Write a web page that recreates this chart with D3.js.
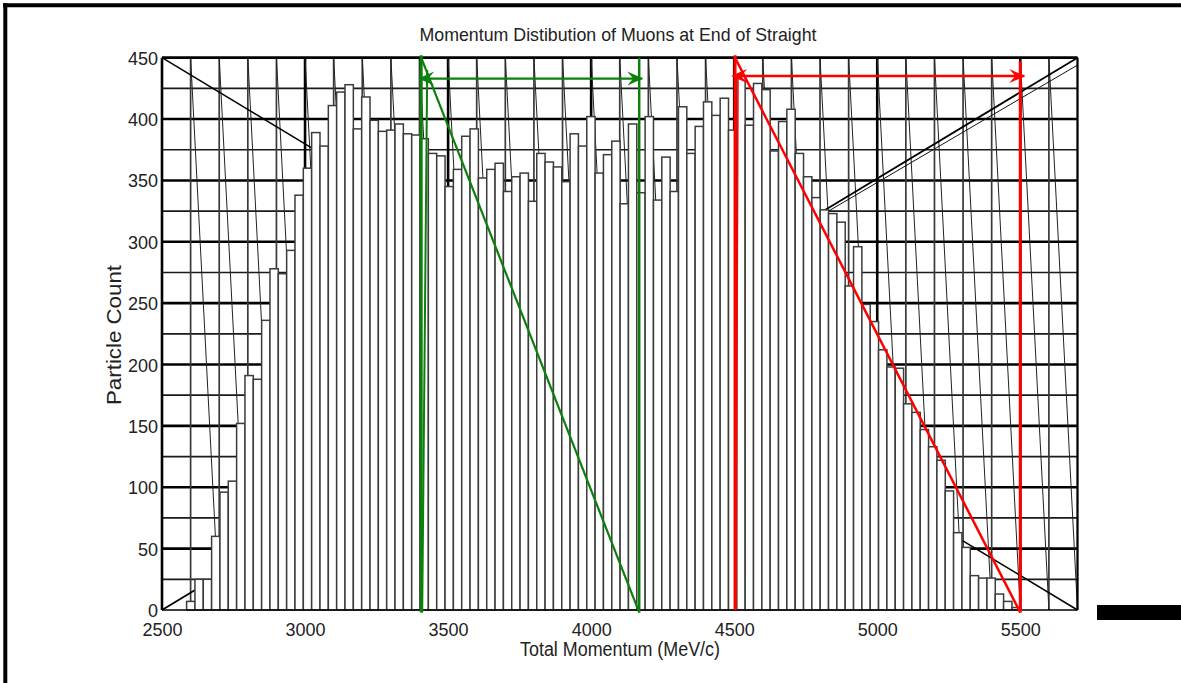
<!DOCTYPE html>
<html><head><meta charset="utf-8">
<script src="https://cdn.jsdelivr.net/npm/d3@7/dist/d3.min.js"></script>
<style>body{margin:0;background:#fff;} svg{display:block;}</style>
</head><body>
<svg id="chart" width="1181" height="683"></svg>
<script>
// ---- data ----
const titleText = "Momentum Distibution of Muons at End of Straight";
const xLabel = "Total Momentum (MeV/c)";
const yLabel = "Particle Count";
const binStart = 2586;   // MeV/c, lower edge of first bin
const binEnd = 5500;     // MeV/c, upper edge of last bin
const counts = [
  7, 25, 25, 60, 96, 105, 152, 191, 188, 236,
  278, 274, 293, 338, 360, 389, 378, 411, 422, 428,
  392, 418, 399, 390, 391, 396, 388, 387, 384, 372,
  370, 345, 359, 386, 392, 352, 359, 364, 341, 353,
  356, 333, 372, 365, 361, 349, 388, 378, 402, 356,
  371, 382, 331, 396, 340, 402, 334, 369, 341, 410,
  372, 394, 414, 403, 417, 391, 435, 395, 429, 424,
  374, 398, 408, 372, 353, 336, 326, 323, 316, 264,
  296, 249, 235, 212, 198, 197, 168, 161, 147, 133,
  122, 97, 63, 51, 28, 26, 26, 13, 7, 2
];
const xTicks = [2500, 3000, 3500, 4000, 4500, 5000, 5500];
const yTicks = [0, 50, 100, 150, 200, 250, 300, 350, 400, 450];
const xDomain = [2500, 5700];
const yDomain = [0, 450];
const greenBand = [3406, 4168];
const greenArrowY = 433;
const redBand = [4503, 5500];
const redArrowY = 435;

// ---- chart ----
const svg = d3.select("#chart");
const x = d3.scaleLinear().domain(xDomain).range([162, 1077.5]);
const y = d3.scaleLinear().domain(yDomain).range([610, 57.7]);

// frame
svg.append("line").attr("x1", 3).attr("x2", 1181).attr("y1", 5.3).attr("y2", 5.3)
  .attr("stroke", "#000").attr("stroke-width", 4);
svg.append("line").attr("x1", 5.3).attr("x2", 5.3).attr("y1", 3.3).attr("y2", 683)
  .attr("stroke", "#000").attr("stroke-width", 4);
svg.append("rect").attr("x", 1097).attr("y", 605).attr("width", 84).attr("height", 15).attr("fill", "#000");

const g = svg.append("g");

// horizontal grid
const hGrid = d3.range(yDomain[0] + 25, yDomain[1] + 1, 25);
g.selectAll(".hg").data(hGrid).join("line")
  .attr("x1", x(xDomain[0])).attr("x2", x(xDomain[1]))
  .attr("y1", d => y(d)).attr("y2", d => y(d))
  .attr("stroke", d => d % 50 === 0 ? "#000" : "#1a1a1a")
  .attr("stroke-width", d => d % 50 === 0 ? 2.6 : 1.7);

// vertical grid
const vGrid = d3.range(xDomain[0] + 100, xDomain[1] + 1, 100);
g.selectAll(".vg").data(vGrid).join("line")
  .attr("x1", d => x(d)).attr("x2", d => x(d))
  .attr("y1", y(yDomain[1])).attr("y2", y(0))
  .attr("stroke", d => d % 500 === 0 ? "#000" : "#3a3a3a")
  .attr("stroke-width", d => d % 500 === 0 ? 2.6 : 1.7);

// zig-zag connectors of the vertical grid
g.selectAll(".zz").data(vGrid.slice(0, -1)).join("line")
  .attr("x1", d => x(d)).attr("y1", y(yDomain[1]))
  .attr("x2", d => x(d + 100)).attr("y2", y(0))
  .attr("stroke", "#222").attr("stroke-width", 1);

// big diagonals
g.append("line").attr("x1", x(xDomain[0])).attr("y1", y(yDomain[1]))
  .attr("x2", x(xDomain[1])).attr("y2", y(0)).attr("stroke", "#000").attr("stroke-width", 1.5);
g.append("line").attr("x1", x(xDomain[0])).attr("y1", y(0))
  .attr("x2", x(xDomain[1])).attr("y2", y(yDomain[1])).attr("stroke", "#000").attr("stroke-width", 1.8);
g.append("line").attr("x1", x(4500)).attr("y1", y(280))
  .attr("x2", x(xDomain[1])).attr("y2", y(444)).attr("stroke", "#111").attr("stroke-width", 1);

// bars
const bw = (binEnd - binStart) / counts.length;
g.selectAll(".bar").data(counts).join("rect")
  .attr("x", (d, i) => x(binStart + i * bw))
  .attr("width", (d, i) => x(binStart + (i + 1) * bw) - x(binStart + i * bw))
  .attr("y", d => y(d))
  .attr("height", d => y(0) - y(d))
  .attr("fill", "#fff").attr("stroke", "#3c3c3c").attr("stroke-width", 1.5);

// axes lines
g.append("line").attr("x1", x(xDomain[0])).attr("x2", x(xDomain[0]))
  .attr("y1", y(yDomain[1])).attr("y2", y(0)).attr("stroke", "#000").attr("stroke-width", 2.6);
g.append("line").attr("x1", x(xDomain[0])).attr("x2", x(xDomain[1]))
  .attr("y1", y(0)).attr("y2", y(0)).attr("stroke", "#000").attr("stroke-width", 1.5);
g.append("line").attr("x1", x(xDomain[1])).attr("x2", x(xDomain[1]))
  .attr("y1", y(yDomain[1])).attr("y2", y(0)).attr("stroke", "#000").attr("stroke-width", 2);
g.append("line").attr("x1", x(xDomain[0])).attr("x2", x(xDomain[1]))
  .attr("y1", y(yDomain[1])).attr("y2", y(yDomain[1])).attr("stroke", "#000").attr("stroke-width", 2.6);

// axis tick labels via d3 axes
const fontTick = "'Liberation Sans', Arial, sans-serif";
const xAxis = svg.append("g").attr("transform", `translate(0,${y(0)})`)
  .call(d3.axisBottom(x).tickValues(xTicks).tickSize(0).tickPadding(10).tickFormat(d3.format("d")));
xAxis.select(".domain").remove();
xAxis.selectAll("text").attr("font-family", fontTick).attr("font-size", 18).attr("fill", "#222")
  .attr("dy", "0").attr("y", 26);
const yAxis = svg.append("g").attr("transform", `translate(${x(xDomain[0])},0)`)
  .call(d3.axisLeft(y).tickValues(yTicks).tickSize(0).tickPadding(4).tickFormat(d3.format("d")));
yAxis.select(".domain").remove();
yAxis.selectAll("text").attr("font-family", fontTick).attr("font-size", 18).attr("fill", "#222")
  .attr("dy", "0.36em");

// annotations
function arrowHead(sel, tipX, tipY, dir, color) {
  const p = `M${tipX},${tipY} L${tipX - dir * 16},${tipY - 7} L${tipX - dir * 10},${tipY} L${tipX - dir * 16},${tipY + 7} Z`;
  sel.append("path").attr("d", p).attr("fill", color);
}
const green = "#0b800b";
const ann = svg.append("g");
ann.append("line").attr("x1", x(greenBand[0])).attr("x2", x(greenBand[0]))
  .attr("y1", y(452)).attr("y2", y(-2)).attr("stroke", green).attr("stroke-width", 3);
ann.append("line").attr("x1", x(greenBand[0]) + 6).attr("x2", x(greenBand[0]) + 1)
  .attr("y1", y(440)).attr("y2", y(-2)).attr("stroke", green).attr("stroke-width", 2);
ann.append("line").attr("x1", x(greenBand[1])).attr("x2", x(greenBand[1]))
  .attr("y1", y(450)).attr("y2", y(-2)).attr("stroke", green).attr("stroke-width", 2.5);
ann.append("line").attr("x1", x(greenBand[0])).attr("y1", y(450))
  .attr("x2", x(greenBand[1])).attr("y2", y(-2)).attr("stroke", green).attr("stroke-width", 2.2);
ann.append("line").attr("x1", x(greenBand[0]) - 2).attr("x2", x(greenBand[1]) + 3)
  .attr("y1", y(greenArrowY)).attr("y2", y(greenArrowY)).attr("stroke", green).attr("stroke-width", 2.2);
arrowHead(ann, x(greenBand[0]) - 3, y(greenArrowY), -1, green);
arrowHead(ann, x(greenBand[1]) + 4, y(greenArrowY), 1, green);

const red = "#ff0000";
ann.append("line").attr("x1", x(redBand[0])).attr("x2", x(redBand[0]))
  .attr("y1", y(452)).attr("y2", y(0)).attr("stroke", red).attr("stroke-width", 3);
ann.append("line").attr("x1", x(redBand[0]) + 3).attr("x2", x(redBand[0]) + 1)
  .attr("y1", y(436)).attr("y2", y(0)).attr("stroke", red).attr("stroke-width", 1.5);
ann.append("line").attr("x1", x(redBand[1])).attr("x2", x(redBand[1]))
  .attr("y1", y(447)).attr("y2", y(-2)).attr("stroke", red).attr("stroke-width", 3);
ann.append("line").attr("x1", x(redBand[0])).attr("y1", y(450))
  .attr("x2", x(redBand[1])).attr("y2", y(-2)).attr("stroke", red).attr("stroke-width", 2.5);
ann.append("line").attr("x1", x(redBand[0]) - 2).attr("x2", x(redBand[1]) + 4)
  .attr("y1", y(redArrowY)).attr("y2", y(redArrowY)).attr("stroke", red).attr("stroke-width", 2.5);
arrowHead(ann, x(redBand[0]) - 4, y(redArrowY), -1, red);
arrowHead(ann, x(redBand[1]) + 5, y(redArrowY), 1, red);

// titles
const fontNarrow = "'Liberation Sans Narrow', 'Arial Narrow', 'Liberation Sans', Arial, sans-serif";
svg.append("text").attr("x", 618).attr("y", 41).attr("text-anchor", "middle")
  .attr("font-family", fontNarrow).attr("font-size", 19).attr("fill", "#222")
  .attr("textLength", 397).attr("lengthAdjust", "spacingAndGlyphs").text(titleText);
svg.append("text").attr("x", 620).attr("y", 656).attr("text-anchor", "middle")
  .attr("font-family", fontNarrow).attr("font-size", 20).attr("fill", "#222")
  .attr("textLength", 200).attr("lengthAdjust", "spacingAndGlyphs").text(xLabel);
svg.append("text").attr("transform", "translate(121,335) rotate(-90)").attr("text-anchor", "middle")
  .attr("font-family", fontNarrow).attr("font-size", 20).attr("fill", "#222")
  .attr("textLength", 140).attr("lengthAdjust", "spacingAndGlyphs").text(yLabel);
</script>
</body></html>
